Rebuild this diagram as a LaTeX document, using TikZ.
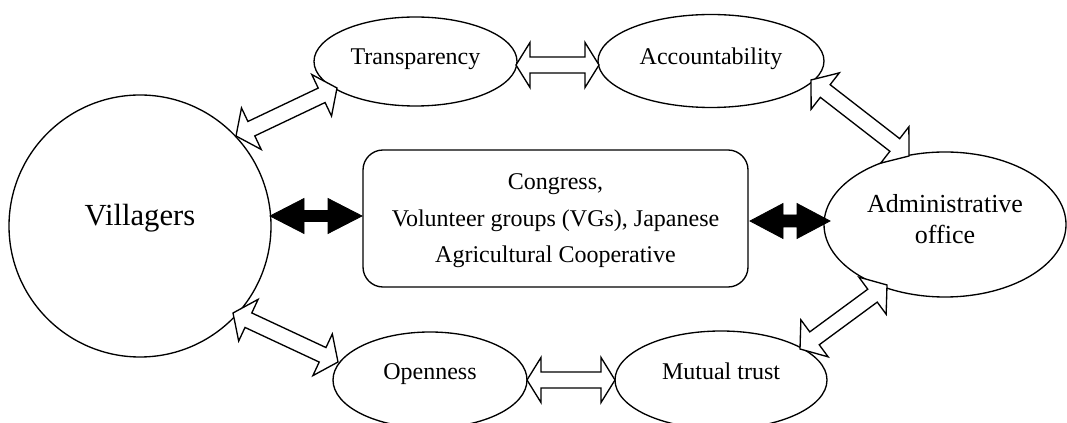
\documentclass[tikz,border=0pt]{standalone}
\usepackage{fontspec}
\setmainfont{Liberation Serif}
\usetikzlibrary{calc,shapes.geometric}

% block double arrow between two named coordinates
% #1 style, #2 from, #3 to, #4 head length, #5 half head width, #6 half shaft width
\newcommand{\dblarrow}[6]{%
  \coordinate (da-h1) at ($(#2)!#4!(#3)$);
  \coordinate (da-h2) at ($(#3)!#4!(#2)$);
  \draw[#1] (#2) -- ($(da-h1)!#5!90:(#3)$) -- ($(da-h1)!#6!90:(#3)$)
    -- ($(da-h2)!#6!-90:(#2)$) -- ($(da-h2)!#5!-90:(#2)$) -- (#3)
    -- ($(da-h2)!#5!90:(#2)$) -- ($(da-h2)!#6!90:(#2)$)
    -- ($(da-h1)!#6!-90:(#3)$) -- ($(da-h1)!#5!-90:(#3)$) -- cycle;}

\tikzset{
  circ/.style={circle, draw, line width=1pt, minimum size=196.5pt, inner sep=0pt,
    font=\fontsize{23}{27}\selectfont, text height=8pt, text depth=8pt},
  oval/.style={ellipse, draw, line width=1pt, inner sep=0pt,
    font=\fontsize{18}{22}\selectfont, text height=6pt, text depth=6pt},
  topoval/.style={oval, text height=8.6pt, text depth=3.4pt},
  bigoval/.style={ellipse, draw, line width=1pt, inner sep=0pt, align=center,
    font=\fontsize{19.5}{23.25}\selectfont},
  roundbox/.style={draw, rounded corners=15pt, line width=1pt, inner sep=0pt, align=center,
    font=\fontsize{18}{27.4}\selectfont},
  whitearrow/.style={draw, fill=white, line width=1pt, line join=miter},
  blackarrow/.style={draw, fill=black, line width=0.6pt, line join=miter}
}

\begin{document}
\begin{tikzpicture}[x=0.75pt, y=-0.75pt]
\useasboundingbox (0,0) rectangle (1067,423);

\node[circ] (V) at (140,226) {Villagers};
\node[topoval, minimum width=152.25pt, minimum height=66.75pt] (T) at (415.5,61.5) {Transparency};
\node[topoval, minimum width=169.5pt, minimum height=69.75pt] (A) at (711,61) {Accountability};
\node[oval, minimum width=145.5pt, minimum height=72pt] (O) at (430,380) {Openness};
\node[oval, minimum width=159pt, minimum height=73.5pt] (M) at (721,380) {Mutual trust};
\node[bigoval, minimum width=181.5pt, minimum height=108.75pt] (AO) at (945,224.5)
  {Administrative\\office\rule[-8.8pt]{0pt}{8.8pt}};
\node[roundbox, minimum width=288.75pt, minimum height=102.75pt] (C) at (555.5,218.5)
  {Congress,\\Volunteer groups (VGs), Japanese\\\smash{Agricultural Cooperative}};

% arrow end points on the borders
\coordinate (vt1) at (236,136); \coordinate (vt2) at (337,88);
\coordinate (ta1) at (516,65);  \coordinate (ta2) at (599,65);
\coordinate (aa1) at (811,80);  \coordinate (aa2) at (909,156);
\coordinate (vo1) at (233,313); \coordinate (vo2) at (338,362);
\coordinate (om1) at (527,380); \coordinate (om2) at (615,380);
\coordinate (ma1) at (800,349); \coordinate (ma2) at (887,285);
\coordinate (vc1) at (270,216); \coordinate (vc2) at (362,216);
\coordinate (ca1) at (750,221); \coordinate (ca2) at (830,221);

\dblarrow{whitearrow}{vt1}{vt2}{12.75pt}{17.25pt}{6pt}
\dblarrow{whitearrow}{ta1}{ta2}{10.5pt}{16.9pt}{6pt}
\dblarrow{whitearrow}{aa1}{aa2}{13.5pt}{17.25pt}{6pt}
\dblarrow{whitearrow}{vo1}{vo2}{12.75pt}{17.25pt}{6pt}
\dblarrow{whitearrow}{om1}{om2}{10.5pt}{16.9pt}{6pt}
\dblarrow{whitearrow}{ma1}{ma2}{13.5pt}{17.25pt}{6pt}
\dblarrow{blackarrow}{vc1}{vc2}{25.5pt}{13.1pt}{4.1pt}
\dblarrow{blackarrow}{ca1}{ca2}{24.75pt}{13.1pt}{4.5pt}
\end{tikzpicture}
\end{document}
